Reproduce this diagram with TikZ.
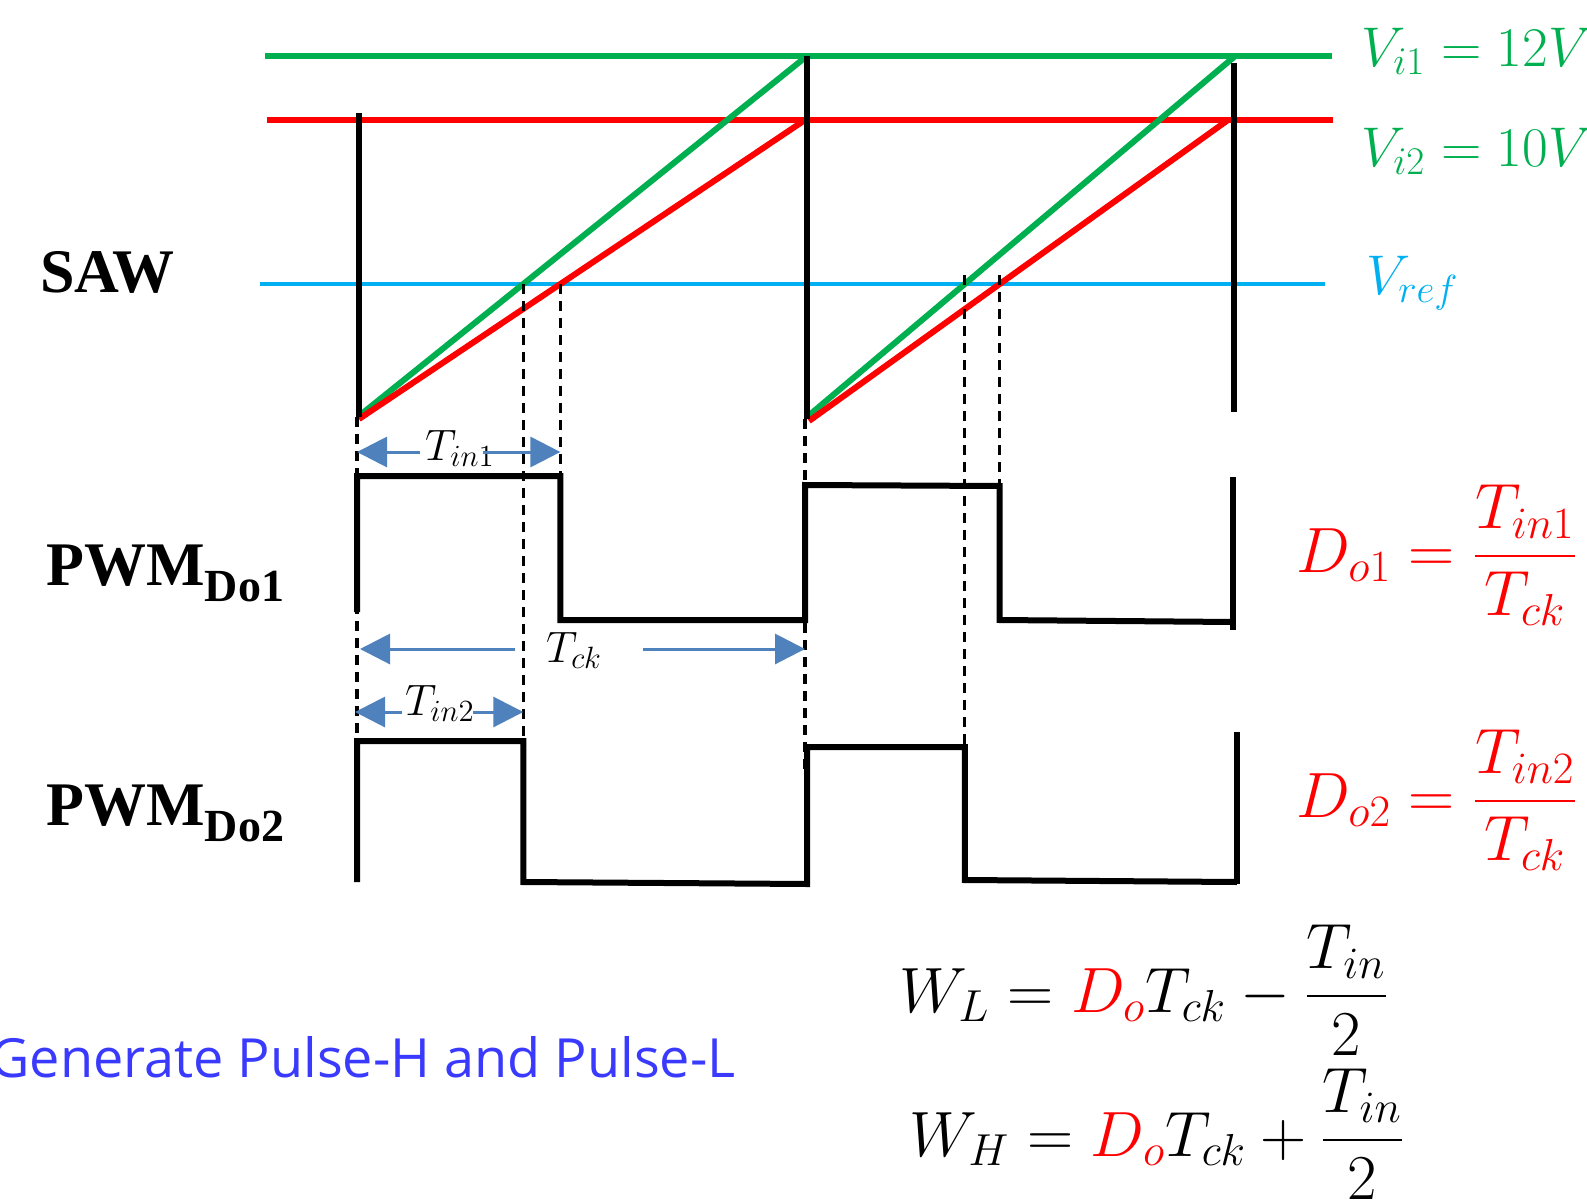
\RequirePackage{fix-cm}
\documentclass[tikz,border=0pt]{standalone}
\usepackage{fontspec}
\usepackage{amsmath}
\usetikzlibrary{arrows.meta,calc}
\newfontfamily\timesfont{Liberation Serif}
\newfontfamily\uifont{Open Sans}
\definecolor{vgreen}{HTML}{00B050}
\definecolor{vred}{HTML}{FF0000}
\definecolor{vcyan}{HTML}{00B0F0}
\definecolor{arrblue}{HTML}{4F81BD}
\definecolor{txtblue}{HTML}{3A3AFF}
\begin{document}
\begin{tikzpicture}[x=0.5pt,y=-0.5pt,
  levelline/.style={line width=3pt},
  rampline/.style={line width=3pt},
  sawedge/.style={line width=3pt,black},
  sigline/.style={line width=3pt,black,line join=miter},
  guide/.style={black,line width=1.6pt,dash pattern=on 5pt off 3.5pt},
  dimline/.style={arrblue,line width=1.5pt,-{Triangle[length=15pt,width=15pt]}},
  dimlabel/.style={anchor=base,inner sep=0pt,font=\fontsize{22}{26}\selectfont},
  rowlabel/.style={anchor=base west,inner sep=0pt,font=\timesfont\bfseries\fontsize{31}{36}\selectfont},
  vlabel/.style={anchor=base west,inner sep=0pt,font=\fontsize{28}{32}\selectfont},
  eqlabel/.style={anchor=base west,inner sep=0pt,font=\fontsize{32}{36}\selectfont}]
\clip (0,0) rectangle (1587,1200);
\fill[white] (0,0) rectangle (1587,1200);

% level lines
\coordinate (gL) at (265,56);  \coordinate (gR) at (1332,56);
\coordinate (rL) at (267,120); \coordinate (rR) at (1333,120);
\coordinate (cL) at (260,284); \coordinate (cR) at (1325,284);
\draw[levelline,vgreen] (gL) -- (gR);
\draw[levelline,vred] (rL) -- (rR);
\draw[vcyan,line width=1.6pt] (cL) -- (cR);

% ramps
\coordinate (g1s) at (359,416); \coordinate (g1e) at (807,56);
\coordinate (r1s) at (359,419); \coordinate (r1e) at (805,120);
\coordinate (g2s) at (807,417); \coordinate (g2e) at (1234,57);
\coordinate (r2s) at (809,421); \coordinate (r2e) at (1228,120);
\draw[rampline,vgreen] (g1s) -- (g1e);
\draw[rampline,vgreen] (g2s) -- (g2e);
\draw[rampline,vred] (r1s) -- (r1e);
\draw[rampline,vred] (r2s) -- (r2e);

% crossings with Vref
\coordinate (x1) at (intersection of g1s--g1e and cL--cR);
\coordinate (x2) at (intersection of r1s--r1e and cL--cR);
\coordinate (x3) at (intersection of g2s--g2e and cL--cR);
\coordinate (x4) at (intersection of r2s--r2e and cL--cR);

% saw edges
\draw[sawedge] (359,113) -- (359,417);
\draw[sawedge] (807,56) -- (807,419);
\draw[sawedge] (1234,63) -- (1234,412);

% levels of the square waves
\coordinate (h1) at (0,476);  \coordinate (l1) at (0,620);
\coordinate (h1b) at (0,486);
\coordinate (h2) at (0,741);  \coordinate (l2) at (0,882);
\coordinate (h2b) at (0,747); \coordinate (l2b) at (0,880);

% dashed guides
\draw[guide] (357,417) -- (357,741);
\draw[guide] (805,419) -- (805,773);
\draw[guide] (x1) -- (x1 |- h2);
\draw[guide] (x2) -- (x2 |- h1);
\draw[guide] ($(x3)+(0,-9)$) -- (x3 |- h2b);
\draw[guide] ($(x4)+(0,-9)$) -- (x4 |- h1b);

% PWM Do1
\draw[sigline] (357,612) -- (357,476) -- (x2 |- h1) -- (x2 |- l1) -- (805,620)
  -- (805,485) -- (x4 |- h1b) -- (x4 |- l1) -- (1233,622);
\draw[sigline] (1233,477) -- (1233,630);

% PWM Do2
\draw[sigline] (357,882) -- (357,741) -- (x1 |- h2) -- (x1 |- l2) -- (807,884)
  -- (807,747) -- (x3 |- h2b) -- (x3 |- l2b) -- (1237,882);
\draw[sigline] (1237,732) -- (1237,884);

% dimension arrows
\node[dimlabel] (tin1) at (460,460) {$T_{in1}$};
\coordinate (a1l) at (420,452); \coordinate (a1r) at (483,452);
\draw[dimline] (a1l) -- (357,452);
\draw[dimline] (a1r) -- (x2 |- a1r);

\node[dimlabel] (tck) at (574,662) {$T_{ck}$};
\coordinate (a2l) at (515,649); \coordinate (a2r) at (643,649);
\draw[dimline] (a2l) -- (360,649);
\draw[dimline] (a2r) -- (805,649);

\node[dimlabel] (tin2) at (440,715) {$T_{in2}$};
\coordinate (a3l) at (402,712); \coordinate (a3r) at (473,712);
\draw[dimline] (a3l) -- (355,712);
\draw[dimline] (a3r) -- (x1 |- a3r);

% row labels
\node[rowlabel] (saw) at (40,292) {SAW};
\node[rowlabel] (pwm1) at (46,585) {PWM\raisebox{-0.26em}{\fontsize{23}{26}\selectfont Do1}};
\node[rowlabel] (pwm2) at (46,825) {PWM\raisebox{-0.26em}{\fontsize{23}{26}\selectfont Do2}};

% voltage labels
\node[vlabel,text=vgreen] (vi1) at (1361,66) {$V_{i1} = 12V$};
\node[vlabel,text=vgreen] (vi2) at (1361,166) {$V_{i2} = 10V$};
\node[vlabel,text=vcyan] (vref) at (1366,294) {$V_{ref}$};

% duty equations
\node[eqlabel,text=vred] (do1) at (1296,572) {$\displaystyle D_{o1} = \frac{T_{in1}}{T_{ck}}$};
\node[eqlabel,text=vred] (do2) at (1296,817) {$\displaystyle D_{o2} = \frac{T_{in2}}{T_{ck}}$};

% width equations
\node[eqlabel] (wl) at (899,1012) {$\displaystyle W_L = {\color{vred}D_o}T_{ck} - \frac{T_{in}}{2}$};
\node[eqlabel] (wh) at (909,1156) {$\displaystyle W_H = {\color{vred}D_o}T_{ck} + \frac{T_{in}}{2}$};

% caption
\node[anchor=base east,inner sep=0pt,text=txtblue,font=\uifont\fontsize{27}{32}\selectfont] (gen) at (736,1077) {Generate Pulse-H and Pulse-L};
\end{tikzpicture}
\end{document}
